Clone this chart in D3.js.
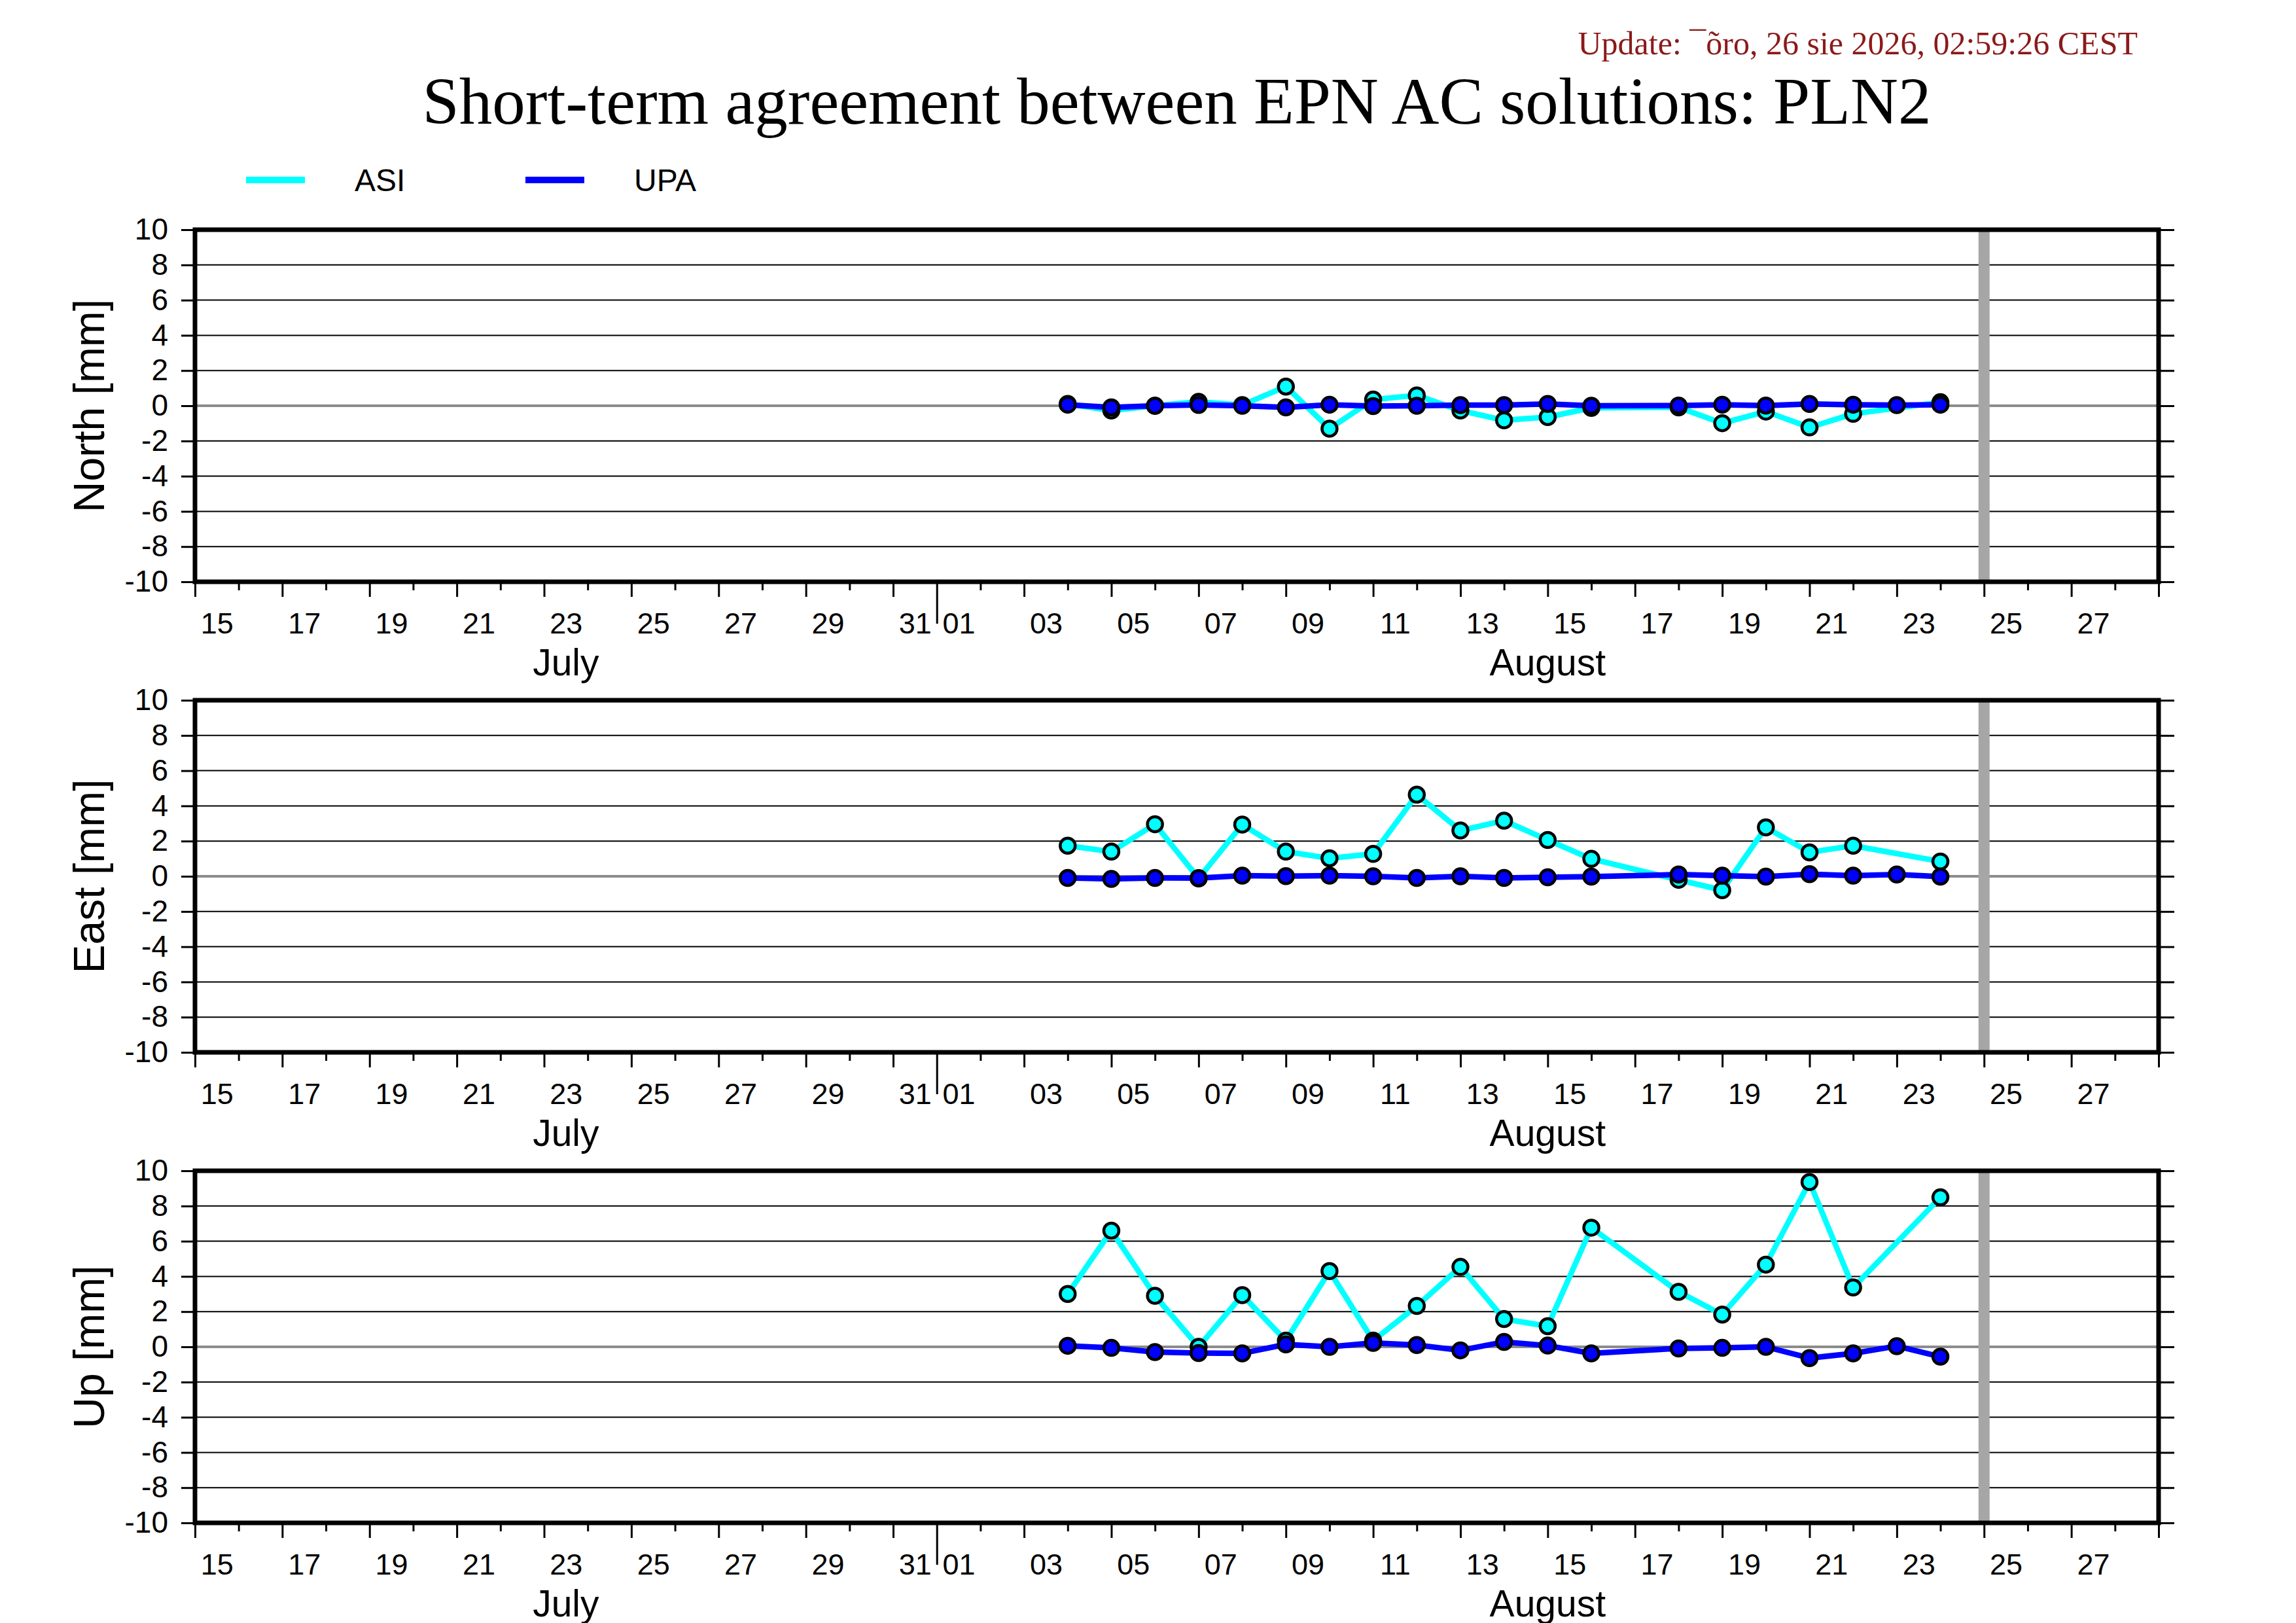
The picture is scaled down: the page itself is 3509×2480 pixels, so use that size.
<!DOCTYPE html>
<html>
<head>
<meta charset="utf-8">
<script src="https://cdn.jsdelivr.net/npm/d3@7"></script>
<style>
  body { margin: 0; background: #fff; }
  text { font-family: "Liberation Sans", Arial, sans-serif; }
</style>
</head>
<body>
<div id="chart"></div>
<script>
// data (mm)
var dates = ["2026-08-04", "2026-08-05", "2026-08-06", "2026-08-07", "2026-08-08",
  "2026-08-09", "2026-08-10", "2026-08-11", "2026-08-12", "2026-08-13", "2026-08-14",
  "2026-08-15", "2026-08-16", "2026-08-18", "2026-08-19", "2026-08-20", "2026-08-21",
  "2026-08-22", "2026-08-23", "2026-08-24"];

var asiNorth = [0.10, -0.27, 0.00, 0.22, 0.04, 1.09, -1.30, 0.35, 0.59, -0.27, -0.83,
  -0.64, -0.12, -0.09, -0.99, -0.33, -1.23, -0.46, null, 0.20];
var upaNorth = [0.06, -0.09, 0.00, 0.05, 0.00, -0.09, 0.06, -0.02, 0.00, 0.04, 0.04,
  0.10, 0.00, 0.01, 0.06, 0.01, 0.10, 0.06, 0.04, 0.06];

var asiEast = [1.74, 1.40, 2.96, -0.12, 2.94, 1.40, 1.02, 1.27, 4.64, 2.60, 3.16,
  2.06, 0.99, -0.20, -0.79, 2.78, 1.36, 1.74, null, 0.84];
var upaEast = [-0.09, -0.15, -0.09, -0.10, 0.04, 0.01, 0.04, 0.00, -0.09, 0.00, -0.09,
  -0.06, -0.02, 0.10, 0.04, -0.02, 0.12, 0.04, 0.10, -0.02];

var asiUp = [3.00, 6.60, 2.90, 0.00, 2.94, 0.35, 4.30, 0.35, 2.32, 4.54, 1.58,
  1.17, 6.77, 3.12, 1.83, 4.67, 9.36, 3.37, null, 8.49];
var upaUp = [0.06, -0.06, -0.30, -0.35, -0.37, 0.14, 0.00, 0.22, 0.10, -0.20, 0.28,
  0.07, -0.37, -0.09, -0.06, 0.00, -0.64, -0.37, 0.04, -0.56];

var seriesNames = ["ASI", "UPA"];
var componentLabels = ["North [mm]", "East [mm]", "Up [mm]"];
var componentValues = [[asiNorth, upaNorth], [asiEast, upaEast], [asiUp, upaUp]];
var yTicks = [-10, -8, -6, -4, -2, 0, 2, 4, 6, 8, 10];
var dateStart = "2026-07-15", dateEnd = "2026-08-29";
var markerDate = "2026-08-25";
var monthNames = ["July", "August"];
var title = "Short-term agreement between EPN AC solutions: PLN2";
var updateText = "Update: \u00AF\u00F5ro, 26 sie 2026, 02:59:26 CEST";

var colors = { ASI: "#00ffff", UPA: "#0000ff" };

var svgWidth = 3509;
var svgHeight = 2480;
var plotLeft = 298, plotRight = 3299;
var panelTops = [351, 1070, 1789];
var panelHeight = 538;

var svg = d3.select("#chart")
  .append("svg")
  .attr("width", svgWidth)
  .attr("height", svgHeight)
  .style("display", "block");

svg.append("rect").attr("width", svgWidth).attr("height", svgHeight).attr("fill", "#fff");

var parse = d3.utcParse("%Y-%m-%d");
var xScale = d3.scaleUtc()
  .domain([parse(dateStart), parse(dateEnd)])
  .range([plotLeft, plotRight]);

// header texts
svg.append("text")
  .attr("x", 3267).attr("y", 83)
  .attr("text-anchor", "end")
  .style("font-family", "'Liberation Serif', 'Times New Roman', serif")
  .style("font-size", "50px")
  .attr("fill", "#8b1a1a")
  .text(updateText);

svg.append("text")
  .attr("x", (plotLeft + plotRight) / 2).attr("y", 189)
  .attr("text-anchor", "middle")
  .style("font-family", "'Liberation Serif', 'Times New Roman', serif")
  .style("font-size", "101px")
  .text(title);

// legend
var legendX = [376, 803];
seriesNames.forEach(function(name, i) {
  svg.append("line")
    .attr("x1", legendX[i]).attr("x2", legendX[i] + 90)
    .attr("y1", 275).attr("y2", 275)
    .attr("stroke", colors[name]).attr("stroke-width", 10);
  svg.append("text")
    .attr("x", legendX[i] + 166).attr("y", 292)
    .style("font-size", "48px")
    .text(name);
});

var points = dates.map(parse);

componentValues.forEach(function(pair, p) {
  var top = panelTops[p];
  var bottom = top + panelHeight;
  var yScale = d3.scaleLinear().domain([-10, 10]).range([bottom, top]);
  var g = svg.append("g");

  // grid
  g.selectAll(".grid").data(yTicks.filter(function(t) { return t !== 0 && Math.abs(t) !== 10; }))
    .enter().append("line")
    .attr("x1", plotLeft).attr("x2", plotRight)
    .attr("y1", d => yScale(d)).attr("y2", d => yScale(d))
    .attr("stroke", "#000").attr("stroke-width", 2);

  g.append("line")
    .attr("x1", plotLeft).attr("x2", plotRight)
    .attr("y1", yScale(0)).attr("y2", yScale(0))
    .attr("stroke", "#8c8c8c").attr("stroke-width", 4);

  // marker for current day
  g.append("line")
    .attr("x1", xScale(parse(markerDate))).attr("x2", xScale(parse(markerDate)))
    .attr("y1", top).attr("y2", bottom)
    .attr("stroke", "#a6a6a6").attr("stroke-width", 17);

  // series
  var line = d3.line().x(d => xScale(d.date)).y(d => yScale(d.v));
  pair.forEach(function(vals, s) {
    var data = points.map(function(d, i) { return { date: d, v: vals[i] }; })
      .filter(function(d) { return d.v !== null; });
    g.append("path")
      .datum(data)
      .attr("d", line)
      .attr("fill", "none")
      .attr("stroke", colors[seriesNames[s]])
      .attr("stroke-width", 8.5)
      .attr("stroke-linejoin", "round");
    g.selectAll(".pt" + s).data(data).enter()
      .append("circle")
      .attr("cx", d => xScale(d.date))
      .attr("cy", d => yScale(d.v))
      .attr("r", 11.5)
      .attr("fill", colors[seriesNames[s]])
      .attr("stroke", "#000")
      .attr("stroke-width", 4.5);
  });

  // frame
  g.append("rect")
    .attr("x", plotLeft).attr("y", top)
    .attr("width", plotRight - plotLeft).attr("height", panelHeight)
    .attr("fill", "none").attr("stroke", "#000").attr("stroke-width", 7);

  // y axes
  var leftAxis = d3.axisLeft(yScale).tickValues(yTicks).tickSize(21).tickPadding(20)
    .tickSizeOuter(0).tickFormat(d => String(d));
  var la = g.append("g").attr("transform", `translate(${plotLeft}, 0)`).call(leftAxis);
  la.select(".domain").remove();
  la.selectAll("line").attr("stroke-width", 3);
  la.selectAll("text").style("font-size", "46px").attr("font-family", null);

  var rightAxis = d3.axisRight(yScale).tickValues(yTicks).tickSize(24).tickFormat("");
  var ra = g.append("g").attr("transform", `translate(${plotRight}, 0)`).call(rightAxis);
  ra.select(".domain").remove();
  ra.selectAll("line").attr("stroke-width", 3);

  // x ticks (long on odd days, short on even days, long on month start)
  var tickAxis = d3.axisBottom(xScale).ticks(d3.utcDay.every(1)).tickSize(23).tickFormat("").tickSizeOuter(0);
  var ta = g.append("g").attr("transform", `translate(0, ${bottom})`).call(tickAxis);
  ta.select(".domain").remove();
  ta.selectAll(".tick line")
    .attr("stroke-width", 3)
    .attr("y2", function(d) {
      if (d.getUTCDate() === 1) return 64;
      return d.getUTCDate() % 2 === 1 ? 23 : 13;
    });

  // day labels centred in the day
  var labelDays = d3.utcDay.range(parse(dateStart), parse(dateEnd))
    .filter(d => d.getUTCDate() % 2 === 1)
    .map(d => d3.utcHour.offset(d, 12));
  var dayAxis = d3.axisBottom(xScale).tickValues(labelDays).tickSize(0).tickPadding(47)
    .tickFormat(d3.utcFormat("%d"));
  var da = g.append("g").attr("transform", `translate(0, ${bottom})`).call(dayAxis);
  da.select(".domain").remove();
  da.selectAll("text").style("font-size", "45px").attr("font-family", null);

  // month labels
  var months = d3.utcMonth.range(d3.utcMonth.floor(parse(dateStart)), parse(dateEnd));
  months.forEach(function(m, i) {
    var a = Math.max(+m, +parse(dateStart));
    var b = Math.min(+d3.utcMonth.offset(m, 1), +parse(dateEnd));
    g.append("text")
      .attr("x", (xScale(new Date(a)) + xScale(new Date(b))) / 2)
      .attr("y", bottom + 143)
      .attr("text-anchor", "middle")
      .style("font-size", "57px")
      .text(monthNames[i]);
  });

  // component label
  g.append("text")
    .attr("transform", `translate(159, ${(top + bottom) / 2}) rotate(-90)`)
    .attr("text-anchor", "middle")
    .style("font-size", "66px")
    .text(componentLabels[p]);
});
</script>
</body>
</html>
